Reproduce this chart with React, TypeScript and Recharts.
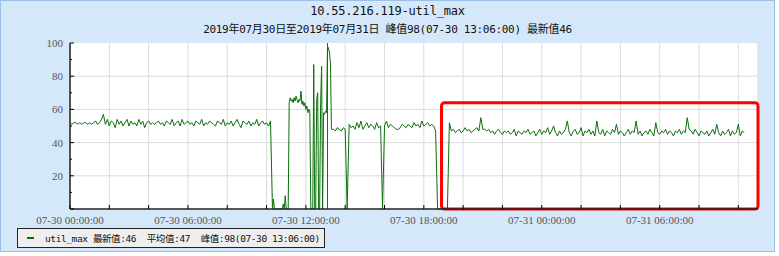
import { CartesianGrid, Line, LineChart, ReferenceArea, ReferenceLine, XAxis, YAxis } from "recharts";

// util_max samples, time in hours since 07-30 00:00:00
const segAStart = 0;
const segAStep = 0.1;
const segAValues = [
  52, 51, 52, 52, 51, 52, 51, 52, 52, 51,
  52, 51, 52, 53, 51, 52, 54, 57, 51, 54,
  50, 53, 52, 49, 54, 51, 53, 50, 52, 54,
  50, 53, 51, 52, 50, 54, 51, 53, 49, 52,
  53, 51, 52, 51, 52, 53, 51, 52, 50, 53,
  52, 51, 54, 50, 52, 53, 50, 54, 51, 52,
  53, 51, 52, 50, 53, 52, 51, 54, 50, 52,
  51, 53, 52, 51, 50, 53, 52, 51, 54, 50,
  52, 51, 53, 50, 52, 54, 51, 49, 53, 52,
  51, 53, 50, 52, 51, 54, 50, 52, 53, 51,
  52, 50, 53,
];

const segBStart = 10.3;
const segBStep = 0.05;
const segBValues = [
  0, 6, 0, 0, 0, 0, 0, 0, 0, 0,
  0, 3, 0, 8, 0, 0, 0, 64, 67, 65,
  66, 64, 67, 65, 68, 66, 64, 66, 65, 71,
  63, 65, 62, 64, 60, 62, 58, 60, 59, 0,
  0, 0, 87, 0, 0, 66, 70, 0, 0, 64,
  86, 0, 58, 57, 59, 58, 98, 97, 94, 88,
  48,
];

const segCStart = 13.4;
const segCStep = 0.1;
const segCValues = [
  48, 47, 49, 48, 47, 49, 48, 0, 51, 49,
  50, 48, 52, 49, 53, 48, 50, 52, 49, 51,
  50, 48, 52, 49, 50, 0, 50, 53, 49, 51,
  50, 49, 48, 48, 49, 51, 50, 49, 51, 50,
  49, 52, 50, 51, 49, 53, 50, 51, 52, 50,
  51, 50, 47, 0, 0, 0, 0, 0, 0,
];

const segDStart = 19.3;
const segDStep = 0.1;
const segDValues = [
  52, 47, 48, 46, 47, 48, 46, 47, 49, 47,
  48, 46, 47, 48, 49, 47, 55, 48, 48, 47,
  48, 46, 47, 45, 47, 48, 46, 45, 47, 46,
  47, 45, 46, 48, 44, 47, 46, 45, 47, 46,
  48, 45, 46, 47, 44, 46, 48, 45, 47, 46,
  49, 45, 47, 50, 46, 44, 47, 45, 46, 48,
  53, 46, 44, 47, 48, 45, 46, 49, 44, 47,
  46, 48, 45, 47, 44, 53, 46, 45, 48, 44,
  47, 46, 45, 48, 46, 51, 45, 47, 46, 44,
  46, 48, 45, 47, 46, 53, 45, 47, 44, 46,
  47, 45, 48, 46, 44, 52, 46, 45, 47, 46,
  48, 45, 47, 46, 44, 47, 46, 48, 45, 47,
  46, 55, 48, 47, 45, 48, 46, 44, 47, 46,
  45, 47, 44, 46, 48, 45, 51, 46, 44, 47,
  45, 46, 48, 44, 47, 45, 46, 51, 44, 47,
  46,
];

const xTicks = [0, 2, 4, 6, 8, 10, 12, 14, 16, 18, 20, 22, 24, 26, 28, 30, 32, 34];
const xLabelHours = [0, 6, 12, 18, 24, 30];
const xTickLabels = [
  "07-30 00:00:00",
  "07-30 06:00:00",
  "07-30 12:00:00",
  "07-30 18:00:00",
  "07-31 00:00:00",
  "07-31 06:00:00",
];
const yTicks = [0, 10, 20, 30, 40, 50, 60, 70, 80, 90, 100];

const peakHour = 13.1;
// highlighted region: hours from/to, value from/to
const boxX = [18.9, 35];
const boxY = [0, 64];

const build = (start: number, step: number, values: number[]) =>
  values.map((v, i) => ({ t: +(start + i * step).toFixed(2), v }));

const data = [
  ...build(segAStart, segAStep, segAValues),
  ...build(segBStart, segBStep, segBValues),
  ...build(segCStart, segCStep, segCValues),
  ...build(segDStart, segDStep, segDValues),
];

const GREEN = "#0b700b";
const axisFont = "'Liberation Serif', 'Times New Roman', serif";
const monoFont = "'DejaVu Sans Mono', 'Noto Sans CJK SC', monospace";

const XTick = (props: any) => {
  const { x, y, payload } = props;
  const idx = xLabelHours.indexOf(payload.value);
  return (
    <g>
      <line x1={x} x2={x} y1={y - 4} y2={y} stroke="#000" />
      {idx >= 0 && (
        <text x={x} y={y + 15} textAnchor="middle" fontSize={11} fill="#555" fontFamily={axisFont}>
          {xTickLabels[idx]}
        </text>
      )}
    </g>
  );
};

const YTick = (props: any) => {
  const { x, y, payload } = props;
  const v = payload.value;
  const major = v % 20 === 0;
  return (
    <g>
      <line x1={x} x2={x + (major ? 4 : 2)} y1={y} y2={y} stroke="#000" />
      {major && v > 0 && (
        <text x={x - 7} y={y + 4} textAnchor="end" fontSize={11} fill="#555" fontFamily={axisFont}>
          {v}
        </text>
      )}
    </g>
  );
};

export default function App() {
  return (
    <div
      style={{
        position: "absolute",
        left: 0,
        top: 0,
        width: 775,
        height: 252,
        background: "#d4e8fa",
        boxShadow: "inset 0 0 0 1px #9cbfe8",
      }}
    >
      <LineChart
        width={775}
        height={252}
        data={data}
        margin={{ top: 43, right: 17, left: 30, bottom: 23 }}
        style={{ position: "absolute", left: 0, top: 0 }}
      >
        <CartesianGrid
          stroke="#dcdcdc"
          fill="#fff"
          horizontalValues={[20, 40, 60, 80]}
        />
        <XAxis
          dataKey="t"
          type="number"
          domain={[0, 35]}
          ticks={xTicks}
          interval={0}
          height={20}
          tickSize={0}
          tickMargin={0}
          tickLine={false}
          axisLine={{ stroke: "#222", strokeWidth: 1.5 }}
          tick={<XTick />}
        />
        <YAxis
          type="number"
          domain={[0, 100]}
          ticks={yTicks}
          interval={0}
          width={40}
          tickSize={0}
          tickMargin={0}
          tickLine={false}
          axisLine={{ stroke: "#222", strokeWidth: 1.5 }}
          tick={<YTick />}
        />
        <ReferenceLine x={peakHour} stroke="#ff0000" strokeWidth={1} />
        <Line
          type="linear"
          dataKey="v"
          stroke={GREEN}
          strokeWidth={1}
          dot={false}
          isAnimationActive={false}
        />
        <ReferenceArea
          x1={boxX[0]}
          x2={boxX[1]}
          y1={boxY[0]}
          y2={boxY[1]}
          ifOverflow="visible"
          shape={(p: any) => (
            <rect
              x={p.x}
              y={p.y}
              width={p.width}
              height={p.height}
              rx={3}
              fill="none"
              stroke="#ff0000"
              strokeWidth={3}
            />
          )}
        />
      </LineChart>

      <div
        style={{
          position: "absolute",
          left: 0,
          top: 4,
          width: 775,
          textAlign: "center",
          fontFamily: monoFont,
          fontSize: 12,
          lineHeight: "14px",
          letterSpacing: -0.2,
          color: "#111",
        }}
      >
        10.55.216.119-util_max
      </div>
      <div
        style={{
          position: "absolute",
          left: 0,
          top: 23,
          width: 775,
          textAlign: "center",
          fontFamily: monoFont,
          fontSize: 11,
          lineHeight: "14px",
          letterSpacing: -0.3,
          color: "#111",
        }}
      >
        2019年07月30日至2019年07月31日 峰值98(07-30 13:06:00) 最新值46
      </div>

      <div
        style={{
          position: "absolute",
          left: 17,
          top: 228,
          width: 306,
          height: 18,
          border: "1px solid #222",
          background: "#eeeeee",
          display: "flex",
          alignItems: "center",
          fontFamily: monoFont,
          fontSize: 9.5,
          letterSpacing: -0.4,
          color: "#111",
          whiteSpace: "pre",
        }}
      >
        <span style={{ display: "inline-block", width: 7, height: 2, background: GREEN, marginLeft: 9 }} />
        <span style={{ marginLeft: 11 }}>util_max 最新值:46  平均值:47  峰值:98(07-30 13:06:00)</span>
      </div>
    </div>
  );
}
